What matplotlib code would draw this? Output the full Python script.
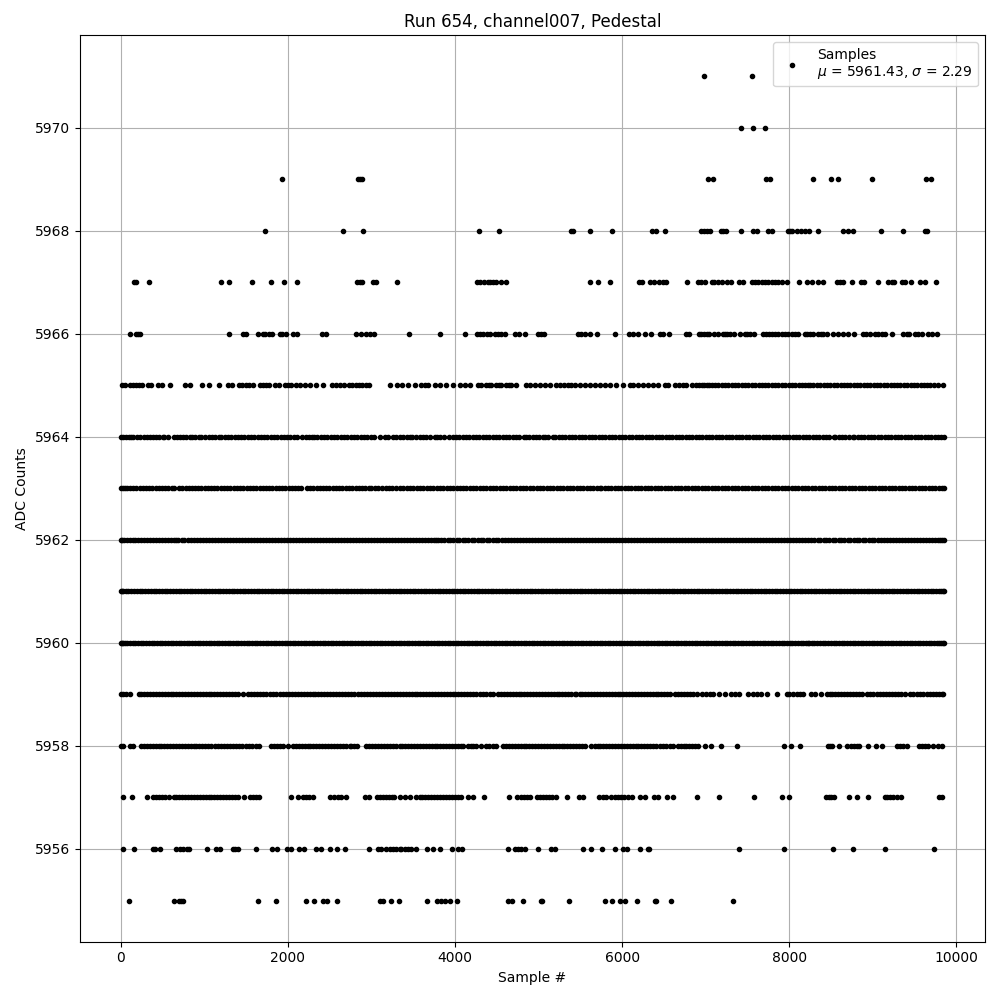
import matplotlib
matplotlib.use('Agg')
import matplotlib.pyplot as plt

#### Sample numbers, one list per ADC level
s5971 = [6980, 7550]
s5970 = [7420, 7560, 7710]
s5969 = [1928, 2838, 2866, 2890, 7030, 7090, 7720, 7772, 8287, 8503, 8579, 8994, 9637, 9693]
s5968 = [1725, 2659, 2898, 4287, 4527, 5385, 5413, 5617, 5880, 6359, 6407, 6515, 6946, 6978, 7010, 7050,
         7180, 7210, 7240, 7425, 7570, 7610, 7750, 7790, 7990, 8010, 8030, 8096, 8136, 8188, 8235, 8347,
         8647, 8706, 8766, 9102, 9365, 9625, 9653]
s5967 = [152, 184, 335, 1198, 1293, 1569, 1796, 1952, 2108, 2826, 2858, 2886, 3018, 3058, 3305,
         4263, 4295, 4343, 4395, 4423, 4455, 4487, 4555, 4607, 5617, 5713, 5856, 6204, 6240, 6339, 6379,
         6443, 6491, 6523, 6778, 6906, 6942, 6986, 7070, 7098, 7150, 7198, 7250, 7298, 7401, 7449,
         7549, 7589, 7629, 7669, 7709, 7749, 7789, 7828, 7868, 7908, 7968, 8112, 8212, 8275, 8347, 8399,
         8575, 8607, 8647, 8746, 8858, 8894, 9066, 9186, 9225, 9257, 9345, 9385, 9461, 9565, 9621, 9753]
s5966 = [108, 176, 200, 224, 1293, 1461, 1501, 1641, 1701, 1729, 1772, 1804, 1900, 1932, 1980, 2060, 2108,
         2411, 2451, 2814, 2878, 2938, 2978, 3026, 3449, 3820, 4120, 4263, 4295, 4335, 4383, 4423, 4475,
         4515, 4555, 4599, 4719, 4766, 4838, 4994, 5034, 5062, 5473, 5513, 5553, 5613, 5701, 5916,
         6080, 6132, 6192, 6276, 6351, 6451, 6491, 6559, 6770, 6802, 6914, 6946, 6978, 7010, 7042, 7098,
         7150, 7202, 7230, 7258, 7289, 7341, 7409, 7469, 7497, 7529, 7577, 7689, 7721, 7752, 7788, 7828,
         7868, 7908, 7948, 7988, 8028, 8068, 8108, 8188, 8216, 8248, 8287, 8347, 8375, 8407, 8455, 8527,
         8587, 8647, 8706, 8774, 8878, 8918, 8966, 9026, 9066, 9106, 9146, 9225, 9365, 9405, 9437, 9509,
         9545, 9593, 9665, 9705, 9769]
s5965 = [16, 48, 112, 144, 184, 216, 255, 323, 363, 443, 491, 587, 774, 830, 974, 1054, 1170, 1281, 1329,
         1413, 1453, 1493, 1533, 1581, 1661, 1701, 1741, 1772, 1840, 1892, 1960, 2000, 2040, 2100, 2140,
         2200, 2259, 2335, 2419, 2531, 2579, 2627, 2667, 2731, 2770, 2810, 2850, 2890, 2930, 2970, 3218,
         3305, 3369, 3437, 3521, 3589, 3637, 3677, 3764, 3816, 3896, 3976, 4064, 4116, 4184, 4275, 4315,
         4367, 4405, 4435, 4495, 4530, 4555, 4615, 4645, 4675, 4727, 4846, 4894, 4954, 5014, 5074, 5134,
         5214, 5254, 5300, 5353, 5393, 5433, 5493, 5553, 5613, 5673, 5733, 5792, 5852, 5932, 6008, 6092,
         6132, 6192, 6252, 6311, 6371, 6431, 6511, 6551, 6631, 6683, 6731, 6770, 6830, 6880, 6920, 6950,
         6985, 7020, 7040, 7070, 7110, 7150, 7190, 7232, 7270, 7310, 7350, 7392, 7430, 7475, 7510, 7552,
         7590, 7635, 7670, 7715, 7750, 7790, 7832, 7870, 7915, 7950, 7995, 8035, 8070, 8112, 8150, 8192,
         8230, 8250, 8290, 8332, 8370, 8410, 8450, 8490, 8535, 8570, 8615, 8650, 8695, 8730, 8775, 8810,
         8852, 8890, 8935, 8970, 9012, 9052, 9090, 9132, 9170, 9212, 9250, 9295, 9330, 9372, 9410, 9455,
         9490, 9530, 9572, 9610, 9650, 9690, 9730, 9775, 9845]
s5964 = [0, 25, 60, 95, 125, 150, 190, 230, 275, 310, 345, 385, 420, 460, 500, 520, 563,
         631, 670, 710, 745, 780, 830, 854, 890, 930, 960, 1010, 1050, 1090, 1130, 1170, 1205, 1245, 1285,
         1320, 1365, 1405, 1440, 1480, 1520, 1555, 1595, 1640, 1680, 1715, 1755, 1795, 1830, 1870, 1915,
         1950, 1990, 2030, 2070, 2110, 2172, 2212, 2250, 2285, 2310, 2345, 2390, 2430, 2470, 2510, 2550, 2590,
         2635, 2670, 2710,
         2750, 2790, 2830, 2870, 2910, 2950, 2990, 3030, 3100, 3165, 3200, 3255, 3290, 3340, 3380, 3420,
         3460, 3490, 3530, 3575, 3615, 3655, 3700, 3760, 3780, 3825, 3865, 3930, 3970, 4010, 4050, 4095,
         4130, 4170, 4210, 4250, 4290, 4330, 4370, 4410, 4450, 4490, 4530, 4570, 4610, 4650, 4690, 4730,
         4770, 4820, 4850, 4890, 4930, 4970, 5010, 5050, 5075, 5115, 5170, 5195, 5240, 5280, 5320, 5360,
         5400, 5440, 5480, 5520, 5560, 5600, 5640, 5680, 5720, 5760, 5800, 5840, 5880, 5920, 5960, 6000,
         6040, 6080, 6120, 6160, 6200, 6240, 6280, 6320, 6360, 6400, 6440, 6480, 6520, 6560, 6600, 6640,
         6680, 6720, 6760, 6800, 6840, 6880, 6920, 6960, 7000, 7040, 7080, 7120, 7160, 7200, 7240, 7280,
         7320, 7360, 7400, 7440, 7480, 7520, 7560, 7600, 7640, 7680, 7720, 7760, 7800, 7840, 7880, 7920,
         7960, 8000, 8040, 8080, 8120, 8160, 8200, 8240, 8280, 8320, 8360, 8400, 8440, 8480, 8535, 8550,
         8590, 8630, 8670, 8710, 8767, 8780, 8820, 8860, 8900, 8940, 8980, 9020, 9060, 9100, 9140, 9180,
         9220, 9260, 9300, 9340, 9380, 9420, 9460, 9500, 9540, 9580, 9620, 9660, 9700, 9740, 9780, 9815, 9850]
s5963 = [0, 22, 48, 80, 112, 150, 185, 225, 265, 300, 340, 378, 420, 455, 495, 530, 570, 610, 640,
         700, 735, 775, 812, 850, 890, 925, 965, 1005, 1040, 1080, 1120, 1155, 1195, 1235, 1275, 1310, 1350,
         1390, 1430, 1465, 1505, 1545, 1585, 1620, 1660, 1700, 1740, 1775, 1815, 1855, 1895, 1930, 1970,
         2010, 2050, 2085, 2125, 2160, 2230, 2265, 2305, 2350, 2380, 2420, 2460, 2495, 2535, 2575, 2615,
         2650, 2690, 2730, 2770, 2810, 2845, 2885, 2925, 2965, 3000, 3040, 3080, 3125, 3170, 3210, 3250,
         3290, 3340, 3380, 3420, 3460, 3500, 3540, 3580, 3620, 3660, 3700, 3740, 3780, 3820, 3855, 3900,
         3940, 3975, 4020, 4060, 4095, 4135, 4175, 4215, 4255, 4295, 4335, 4375, 4415, 4455, 4495, 4535,
         4575, 4615, 4655, 4695, 4735, 4775, 4815, 4855, 4895, 4935, 4975, 5015, 5055, 5095, 5135, 5175,
         5215, 5255, 5295, 5335, 5375, 5415, 5455, 5495, 5535, 5575, 5615, 5655, 5695, 5730, 5750, 5790,
         5830, 5870, 5910, 5950, 5990, 6030, 6070, 6110, 6150, 6190, 6230, 6270, 6310, 6350, 6390, 6430,
         6470, 6510, 6550, 6590, 6630, 6670, 6710, 6750, 6790, 6830, 6870, 6910, 6950, 6990, 7030, 7070,
         7110, 7150, 7190, 7230, 7270, 7310, 7350, 7390, 7430, 7470, 7510, 7550, 7590, 7630, 7670, 7710,
         7750, 7790, 7830, 7870, 7910, 7950, 7990, 8030, 8070, 8110, 8150, 8190, 8230, 8270, 8310, 8350,
         8390, 8430, 8470, 8510, 8550, 8590, 8630, 8670, 8710, 8750, 8790, 8830, 8870, 8910, 8950, 8990,
         9030, 9070, 9110, 9150, 9190, 9230, 9270, 9310, 9350, 9390, 9430, 9470, 9510, 9550, 9590, 9630,
         9670, 9710, 9750, 9790, 9825, 9850]
s5962 = [0, 18, 38, 70, 105, 140, 172, 210, 245, 280, 318, 352, 390, 425, 460, 498, 532, 570, 605, 640,
         655, 690, 728, 762, 800, 835, 870, 908, 942, 980, 1015, 1050, 1088, 1122, 1160, 1195, 1230, 1268,
         1302, 1340, 1375, 1410, 1448, 1482, 1520, 1555, 1590, 1628, 1662, 1700, 1735, 1770, 1808, 1842,
         1880, 1915, 1950, 1988, 2022, 2060, 2095, 2130, 2168, 2202, 2240, 2275, 2310, 2348, 2382, 2420,
         2455, 2490, 2528, 2562, 2600, 2635, 2670, 2708, 2742, 2780, 2815, 2850, 2888, 2922, 2960, 2995,
         3030, 3068, 3102, 3140, 3175, 3210, 3248, 3282, 3320, 3355, 3390, 3428, 3462, 3500, 3535, 3570,
         3608, 3642, 3680, 3715, 3750, 3768, 3800, 3838, 3872, 3910, 3945, 3980, 4018, 4052, 4090, 4125,
         4160, 4198, 4232, 4270, 4305, 4340, 4378, 4412, 4450, 4485, 4520, 4558, 4592, 4630, 4665, 4700,
         4738, 4772, 4810, 4845, 4880, 4918, 4952, 4990, 5025, 5060, 5098, 5132, 5170, 5205, 5240, 5278,
         5312, 5350, 5385, 5420, 5458, 5492, 5530, 5565, 5600, 5638, 5672, 5710, 5745, 5780, 5818, 5852,
         5890, 5925, 5960, 5998, 6032, 6070, 6105, 6140, 6178, 6212, 6250, 6285, 6320, 6358, 6392, 6430,
         6465, 6500, 6538, 6572, 6610, 6645, 6680, 6718, 6752, 6790, 6825, 6860, 6898, 6932, 6970, 7005,
         7040, 7078, 7112, 7150, 7185, 7220, 7258, 7292, 7330, 7365, 7400, 7438, 7472, 7510, 7545, 7580,
         7618, 7652, 7690, 7725, 7760, 7798, 7832, 7870, 7905, 7940, 7978, 8012, 8050, 8085, 8120, 8158,
         8192, 8230, 8265, 8300, 8338, 8372, 8410, 8445, 8480, 8518, 8552, 8590, 8625, 8660, 8698, 8732,
         8770, 8805, 8840, 8878, 8912, 8950, 8985, 9020, 9058, 9092, 9130, 9165, 9200, 9238, 9272, 9310,
         9345, 9380, 9418, 9452, 9490, 9525, 9560, 9598, 9632, 9670, 9705, 9740, 9778, 9800, 9825, 9850]
s5961 = [0, 15, 32, 60, 92, 125, 158, 192, 225, 258, 292, 325, 358, 392, 425, 458, 492, 525, 558, 592,
         625, 658, 692, 725, 758, 792, 825, 858, 892, 925, 958, 992, 1025, 1058, 1092, 1125, 1158, 1192,
         1225, 1258, 1292, 1325, 1358, 1392, 1425, 1458, 1492, 1525, 1558, 1592, 1625, 1658, 1692, 1725,
         1758, 1792, 1825, 1858, 1892, 1925, 1958, 1992, 2025, 2058, 2092, 2125, 2158, 2192, 2225, 2258,
         2292, 2325, 2358, 2392, 2425, 2458, 2492, 2525, 2558, 2592, 2625, 2658, 2692, 2725, 2758, 2792,
         2825, 2858, 2892, 2925, 2958, 2992, 3025, 3058, 3092, 3125, 3158, 3192, 3225, 3258, 3292, 3325,
         3358, 3392, 3425, 3458, 3492, 3525, 3558, 3592, 3625, 3658, 3692, 3725, 3758, 3792, 3825, 3858,
         3892, 3925, 3958, 3992, 4025, 4058, 4092, 4125, 4158, 4192, 4225, 4258, 4292, 4325, 4358, 4392,
         4425, 4458, 4492, 4525, 4558, 4592, 4625, 4658, 4692, 4725, 4758, 4792, 4825, 4858, 4892, 4925,
         4958, 4992, 5025, 5058, 5092, 5125, 5158, 5192, 5225, 5258, 5292, 5325, 5358, 5392, 5425, 5458,
         5492, 5525, 5558, 5592, 5625, 5658, 5692, 5725, 5758, 5792, 5825, 5858, 5892, 5925, 5958, 5992,
         6025, 6058, 6092, 6125, 6158, 6192, 6225, 6258, 6292, 6325, 6358, 6392, 6425, 6458, 6492, 6525,
         6558, 6592, 6625, 6658, 6692, 6725, 6758, 6792, 6825, 6858, 6892, 6925, 6958, 6992, 7025, 7058,
         7092, 7125, 7158, 7192, 7225, 7258, 7292, 7325, 7358, 7392, 7425, 7458, 7492, 7525, 7558, 7592,
         7625, 7658, 7692, 7725, 7758, 7792, 7825, 7858, 7892, 7925, 7958, 7992, 8025, 8058, 8092, 8125,
         8158, 8192, 8225, 8258, 8292, 8325, 8358, 8392, 8425, 8458, 8492, 8525, 8558, 8592, 8625, 8658,
         8692, 8725, 8758, 8792, 8825, 8858, 8892, 8925, 8958, 8992, 9025, 9058, 9092, 9125, 9158, 9192,
         9225, 9258, 9292, 9325, 9358, 9392, 9425, 9458, 9492, 9525, 9558, 9592, 9625, 9658, 9692, 9725,
         9758, 9792, 9815, 9838, 9850]
s5960 = [0, 10, 25, 48, 78, 110, 142, 175, 205, 238, 270, 302, 335, 368, 400, 432, 465, 498, 530, 562,
         595, 628, 660, 692, 725, 758, 790, 822, 855, 888, 920, 952, 985, 1018, 1050, 1082, 1115, 1148,
         1180, 1212, 1245, 1278, 1310, 1342, 1375, 1408, 1440, 1472, 1505, 1538, 1570, 1602, 1635, 1668,
         1700, 1732, 1765, 1798, 1830, 1862, 1895, 1928, 1960, 1992, 2025, 2058, 2090, 2122, 2155, 2188,
         2220, 2252, 2285, 2318, 2350, 2382, 2415, 2448, 2480, 2512, 2545, 2578, 2610, 2642, 2675, 2708,
         2740, 2772, 2805, 2838, 2870, 2902, 2935, 2968, 3000, 3032, 3065, 3098, 3130, 3162, 3195, 3228,
         3260, 3292, 3325, 3358, 3390, 3422, 3455, 3488, 3520, 3552, 3585, 3618, 3650, 3682, 3715, 3748,
         3780, 3812, 3845, 3878, 3910, 3942, 3975, 4008, 4040, 4072, 4105, 4138, 4170, 4202, 4235, 4268,
         4300, 4332, 4365, 4398, 4430, 4462, 4495, 4528, 4560, 4592, 4625, 4658, 4690, 4722, 4755, 4788,
         4820, 4852, 4885, 4918, 4950, 4982, 5015, 5048, 5080, 5112, 5145, 5178, 5210, 5242, 5275, 5308,
         5340, 5372, 5405, 5438, 5470, 5502, 5535, 5568, 5600, 5632, 5665, 5698, 5730, 5762, 5795, 5828,
         5860, 5892, 5925, 5958, 5990, 6022, 6055, 6088, 6120, 6152, 6185, 6218, 6250, 6282, 6315, 6348,
         6380, 6412, 6445, 6478, 6510, 6542, 6575, 6608, 6640, 6672, 6705, 6738, 6770, 6802, 6835, 6868,
         6900, 6932, 6965, 6998, 7030, 7062, 7095, 7128, 7160, 7192, 7225, 7258, 7290, 7322, 7355, 7388,
         7420, 7452, 7485, 7518, 7550, 7582, 7615, 7648, 7680, 7712, 7745, 7778, 7810, 7842, 7875, 7908,
         7940, 7972, 8005, 8038, 8070, 8102, 8135, 8168, 8200, 8225, 8240, 8270, 8300, 8335, 8368, 8400,
         8432, 8465, 8498, 8530, 8562, 8595, 8628, 8660, 8692, 8725, 8758, 8790, 8822, 8855, 8888, 8920,
         8952, 8985, 9018, 9050, 9082, 9115, 9148, 9180, 9212, 9245, 9278, 9310, 9342, 9375, 9408, 9440,
         9472, 9505, 9538, 9570, 9602, 9635, 9668, 9700, 9732, 9765, 9790, 9815, 9835, 9850]
s5959 = [8, 30, 64, 112, 216, 245, 280, 315, 350, 385, 420, 455, 490, 525, 560, 595, 630, 665, 700, 735,
         770, 805, 840, 875, 910, 945, 980, 1015, 1050, 1085, 1120, 1155, 1190, 1225, 1260, 1295, 1330,
         1365, 1400, 1461, 1521, 1555, 1590, 1625, 1660, 1700, 1740, 1780, 1820, 1860, 1900, 1940, 1980,
         2015, 2050, 2085, 2120, 2155, 2190, 2225, 2260, 2295, 2330, 2365, 2400, 2435, 2470, 2505, 2540,
         2575, 2610, 2645, 2680, 2715, 2750, 2785, 2838, 2878, 2915, 2950, 2985, 3020, 3055, 3090, 3125,
         3160, 3195, 3230, 3265, 3300, 3337, 3375, 3410, 3445, 3480, 3515, 3550, 3585, 3620, 3655, 3690,
         3725, 3760, 3795, 3830, 3865, 3900, 3935, 3970, 4005, 4040, 4075, 4110, 4145, 4180, 4215, 4250,
         4295, 4335, 4375, 4415, 4455, 4515, 4550, 4585, 4620, 4655, 4690, 4725, 4760, 4795, 4830, 4865,
         4900, 4935, 4970, 5005, 5040, 5075, 5110, 5145, 5180, 5215, 5250, 5285, 5320, 5355, 5390, 5433,
         5453, 5490, 5525, 5560, 5595, 5630, 5665, 5700, 5735, 5770, 5805, 5840, 5875, 5910, 5945, 5980,
         6015, 6050, 6085, 6120, 6155, 6190, 6225, 6260, 6295, 6330, 6365, 6400, 6435, 6470, 6505, 6540,
         6575, 6631, 6671, 6705, 6740, 6775, 6810, 6850, 6890, 6950, 7002, 7050, 7082, 7154, 7230, 7298,
         7349, 7401, 7509, 7561, 7609, 7657, 7729, 7856, 7968, 8000, 8040, 8088, 8128, 8168, 8255, 8307,
         8379, 8447, 8482, 8517, 8552, 8587, 8622, 8657, 8692, 8727, 8762, 8797, 8832, 8867, 8926, 8966,
         9006, 9054, 9090, 9125, 9160, 9195, 9230, 9265, 9300, 9335, 9385, 9445, 9485, 9525, 9565, 9605,
         9645, 9685, 9725, 9760, 9795, 9825, 9845]
s5958 = [0, 30, 112, 150, 244, 280, 315, 350, 385, 420, 463, 483, 520, 555, 590, 625, 660, 695, 730, 765,
         800, 835, 870, 905, 940, 975, 1010, 1042, 1082, 1122, 1160, 1195, 1230, 1270, 1310, 1345, 1380,
         1415, 1450, 1501, 1533, 1575, 1621, 1653, 1800, 1835, 1870, 1905, 1940, 2004, 2060, 2095, 2130,
         2165, 2200, 2235, 2270, 2305, 2340, 2375, 2410, 2445, 2480, 2515, 2550, 2585, 2620, 2655, 2690,
         2739, 2759, 2795, 2826, 2938, 2975, 3010, 3045, 3080, 3115, 3150, 3185, 3220, 3255, 3290, 3337,
         3370, 3405, 3440, 3475, 3510, 3545, 3580, 3615, 3650, 3685, 3720, 3755, 3790, 3825, 3860, 3895,
         3930, 3965, 4000, 4035, 4070, 4096, 4156, 4186, 4216, 4255, 4315, 4375, 4410, 4450, 4487, 4575,
         4610, 4645, 4680, 4715, 4750, 4785, 4820, 4855, 4890, 4925, 4960, 4995, 5030, 5065, 5100, 5135,
         5170, 5205, 5240, 5275, 5310, 5345, 5380, 5415, 5450, 5485, 5520, 5553, 5633, 5670, 5705, 5740,
         5775, 5810, 5845, 5880, 5915, 5950, 5985, 6020, 6055, 6090, 6125, 6160, 6195, 6230, 6265, 6300,
         6335, 6370, 6405, 6451, 6491, 6530, 6570, 6611, 6671, 6705, 6740, 6770, 6802, 6840, 6875, 6910,
         6990, 7058, 7186, 7377, 7940, 8016, 8132, 8467, 8487, 8507, 8599, 8695, 8735, 8774, 8806, 8838,
         8938, 9038, 9106, 9285, 9325, 9365, 9413, 9549, 9585, 9625, 9665, 9717, 9785, 9825]
s5957 = [32, 132, 315, 391, 425, 460, 495, 530, 575, 631, 665, 700, 735, 770, 805, 840, 875, 910, 945,
         980, 1015, 1050, 1085, 1120, 1155, 1190, 1225, 1260, 1295, 1330, 1365, 1401, 1473, 1549, 1585,
         1620, 1653, 2036, 2120, 2180, 2215, 2250, 2299, 2507, 2550, 2595, 2639, 2691, 2918, 2970, 3066,
         3100, 3135, 3170, 3205, 3240, 3275, 3337, 3397, 3457, 3537, 3575, 3610, 3645, 3680, 3715, 3750,
         3785, 3820, 3855, 3890, 3925, 3960, 3995, 4030, 4076, 4156, 4216, 4347, 4647, 4743, 4785, 4825,
         4862, 4902, 4982, 5020, 5055, 5090, 5125, 5160, 5214, 5345, 5481, 5533, 5721, 5765, 5812, 5872,
         5910, 5950, 5985, 6020, 6072, 6112, 6212, 6272, 6379, 6431, 6539, 6611, 6898, 7162, 7581, 7916,
         8000, 8439, 8479, 8503, 8535, 8719, 8814, 8946, 9146, 9175, 9206, 9245, 9285, 9333, 9796, 9828]
s5956 = [24, 156, 383, 415, 475, 663, 703, 743, 790, 814, 1034, 1142, 1190, 1341, 1370, 1401, 1621, 1808,
         1868, 1988, 2040, 2132, 2188, 2339, 2399, 2507, 2587, 2687, 2970, 3078, 3118, 3178, 3218, 3258,
         3298, 3337, 3357, 3397, 3440, 3477, 3529, 3665, 3737, 3820, 3964, 4036, 4088, 4635, 4715, 4755,
         4795, 4834, 4998, 5154, 5194, 5533, 5629, 5760, 5916, 6012, 6064, 6216, 6305, 6325, 7401, 7940,
         8519, 8766, 9142, 9737]
s5955 = [96, 631, 695, 720, 743, 1641, 1856, 2216, 2311, 2419, 2467, 2591, 3098, 3138, 3238, 3325, 3665,
         3784, 3836, 3876, 3936, 4024, 4635, 4687, 4814, 5030, 5045, 5365, 5796, 5880, 5972, 6036, 6180,
         6395, 6410, 6587, 7329]

levels = [5971, 5970, 5969, 5968, 5967, 5966, 5965, 5964, 5963, 5962, 5961, 5960, 5959, 5958, 5957, 5956, 5955]
samples = [s5971, s5970, s5969, s5968, s5967, s5966, s5965, s5964, s5963, s5962, s5961, s5960, s5959, s5958,
           s5957, s5956, s5955]
mean_adc = 5961.43
std_adc = 2.29

x = []
y = []
for level, row in zip(levels, samples):
    x += row
    y += [level]*len(row)

fig, ax = plt.subplots(figsize=(10, 10), dpi=100)
ax.plot(x, y, 'k.', label='Samples\n$\\mu$ = %.2f, $\\sigma$ = %.2f' % (mean_adc, std_adc))
ax.set_xlabel('Sample #')
ax.set_ylabel('ADC Counts')
ax.set_title('Run 654, channel007, Pedestal')
ax.legend(loc='upper right')
ax.grid()
fig.tight_layout()
fig.subplots_adjust(top=0.965)
fig.savefig('out.png')
